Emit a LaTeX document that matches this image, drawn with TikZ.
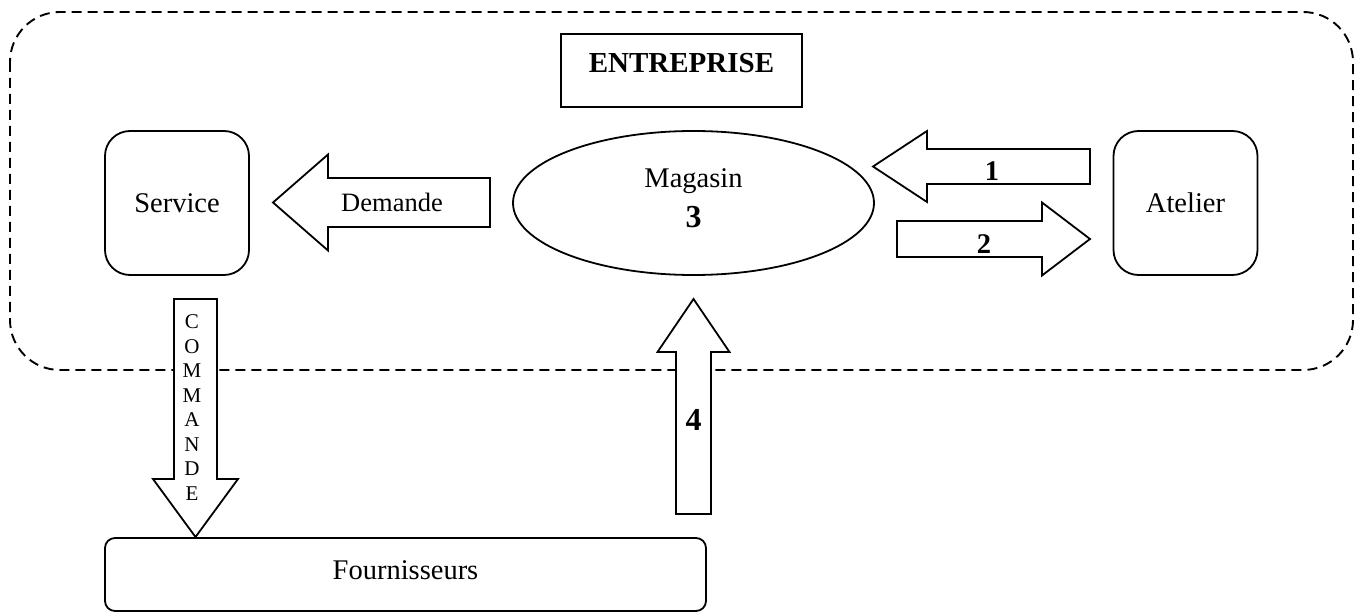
\documentclass[tikz,border=0pt]{standalone}
\usepackage{fontspec}
\setmainfont{Liberation Serif}
\usetikzlibrary{calc,shapes.geometric}

\tikzset{
  box/.style={draw=black, line width=1.8pt, rounded corners=25pt, minimum width=144pt, minimum height=144pt, inner sep=0pt, font=\fontsize{28.5}{34}\selectfont},
  blockarrow/.style={draw=black, fill=white, line width=1.8pt, line join=miter},
  lbl/.style={inner sep=0pt, font=\fontsize{28.5}{34}\selectfont\bfseries},
}

% fat outlined arrow: tail, tip, half shaft, half head, head length
\newcommand{\fatarrow}[5]{%
  \coordinate (#1#2) at ($(#2)!#5!(#1)$);
  \draw[blockarrow] ($(#1)!#3!90:(#2)$) -- ($(#1#2)!#3!90:(#2)$) -- ($(#1#2)!#4!90:(#2)$) -- (#2)
    -- ($(#1#2)!#4!-90:(#2)$) -- ($(#1#2)!#3!-90:(#2)$) -- ($(#1)!#3!-90:(#2)$) -- cycle;
}

\begin{document}
\begin{tikzpicture}[x=1pt,y=-1pt]
		\useasboundingbox (0,0) rectangle (1365,612);

		% entreprise
		\draw[line width=1.9pt, dash pattern=on 10pt off 6pt, rounded corners=50pt] (10,12) rectangle (1353,370);
		\node[draw=black, line width=1.8pt, minimum width=241pt, minimum height=73pt, inner sep=0pt, text depth=15pt, font=\fontsize{29}{34}\selectfont\bfseries] (entreprise) at (681.5,70.5) {ENTREPRISE};

		\node[box] (service) at (177,203) {Service};
		\node[box] (atelier) at (1185.5,203) {Atelier};
		\node[shape=ellipse, draw=black, line width=1.8pt, minimum width=361pt, minimum height=144pt, inner sep=0pt, align=center, font=\fontsize{28.5}{40}\selectfont] (magasin) at (693.5,203) {Magasin\\{\fontsize{32}{38}\selectfont\bfseries 3\rule[-10pt]{0pt}{10pt}}};
		\node[box, rounded corners=10pt, minimum width=601pt, minimum height=73pt, text depth=9pt] (fourn) at (405.5,574.5) {Fournisseurs};

		\coordinate (dem1) at (490,202.5);  \coordinate (dem2) at (273,202.5);
		\coordinate (un1) at (1090,166.5);  \coordinate (un2) at (873,166.5);
		\coordinate (deux1) at (897,239);   \coordinate (deux2) at (1090,239);
		\coordinate (cmd1) at (195.5,299);  \coordinate (cmd2) at (195.5,537);
		\coordinate (qt1) at (693.5,514);   \coordinate (qt2) at (693.5,299);

		\fatarrow{dem1}{dem2}{24.5pt}{48pt}{55pt}
		\fatarrow{un1}{un2}{17.5pt}{35.5pt}{54pt}
		\fatarrow{deux1}{deux2}{18pt}{36.5pt}{48pt}
		\fatarrow{cmd1}{cmd2}{21.5pt}{42.5pt}{58pt}
		\fatarrow{qt1}{qt2}{17.5pt}{36pt}{53pt}

		\node[inner sep=0pt, font=\fontsize{26.5}{32}\selectfont] (demande) at (392,202) {Demande};
		\node[lbl] (l1) at (992,171) {1};
		\node[lbl] (l2) at (984,244) {2};
		\node[lbl, font=\fontsize{32}{38}\selectfont\bfseries] (l4) at (693.5,420) {4};
		\node[inner sep=0pt, align=center, font=\fontsize{21}{24.5}\selectfont] (commande) at (192,407.5) {C\\O\\M\\M\\A\\N\\D\\E};
\end{tikzpicture}
\end{document}
